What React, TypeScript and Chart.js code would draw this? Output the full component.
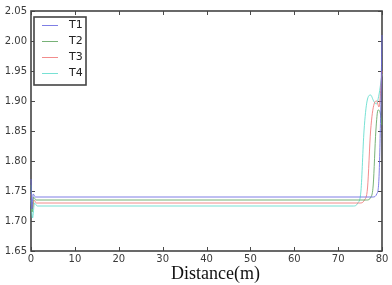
import React, { useEffect, useRef } from "react";
import { Chart, registerables } from "chart.js";
Chart.register(...registerables);

const seriesNames = ["T1", "T2", "T3", "T4"];
const seriesColors = [
  "rgba(105,105,225,0.85)",
  "rgba(95,165,95,0.85)",
  "rgba(240,120,120,0.85)",
  "rgba(95,220,205,0.85)",
];

const t1X = [0, 0.2, 0.5, 1, 78, 78.8, 79.3, 79.7, 80];
const t1Y = [1.77, 1.72, 1.745, 1.74, 1.74, 1.745, 1.77, 1.88, 2.01];
const t2X = [0, 0.25, 0.6, 1.1, 76.5, 77.5, 78, 78.6, 79.1, 79.6, 80];
const t2Y = [1.76, 1.715, 1.74, 1.735, 1.735, 1.74, 1.76, 1.85, 1.885, 1.88, 1.86];
const t3X = [0, 0.3, 0.7, 1.2, 75, 76, 76.7, 77.4, 78.2, 78.8, 79.3, 80];
const t3Y = [1.745, 1.72, 1.735, 1.73, 1.73, 1.735, 1.755, 1.85, 1.895, 1.9, 1.89, 1.95];
const t4X = [0, 0.35, 0.8, 1.4, 73.5, 74.5, 75.2, 75.9, 76.6, 77.4, 78.1, 78.7, 79.3, 80];
const t4Y = [1.735, 1.705, 1.73, 1.725, 1.725, 1.73, 1.75, 1.85, 1.9, 1.91, 1.9, 1.895, 1.91, 1.945];

const xTicks = [0, 10, 20, 30, 40, 50, 60, 70, 80];
const yTicks = [1.65, 1.7, 1.75, 1.8, 1.85, 1.9, 1.95, 2.0, 2.05];
const xTitle = "Distance(m)";

const seriesX = [t1X, t2X, t3X, t4X];
const seriesY = [t1Y, t2Y, t3Y, t4Y];

const framePlugin = {
  id: "frameTicks",
  beforeDatasetsDraw(chart: any) {
    const { ctx, chartArea } = chart;
    const { left, right, top, bottom } = chartArea;
    const xs = chart.scales.x;
    const ys = chart.scales.y;
    ctx.save();
    ctx.strokeStyle = "#4a4a4a";
    ctx.lineWidth = 1;
    ctx.beginPath();
    xTicks.forEach((v) => {
      const px = Math.round(xs.getPixelForValue(v)) + 0.5;
      ctx.moveTo(px, bottom);
      ctx.lineTo(px, bottom - 4);
      ctx.moveTo(px, top);
      ctx.lineTo(px, top + 4);
    });
    yTicks.forEach((v) => {
      const py = Math.round(ys.getPixelForValue(v)) + 0.5;
      ctx.moveTo(left, py);
      ctx.lineTo(left + 4, py);
      ctx.moveTo(right, py);
      ctx.lineTo(right - 4, py);
    });
    ctx.stroke();
    ctx.lineWidth = 1.6;
    ctx.strokeStyle = "#444";
    ctx.strokeRect(left, top, right - left, bottom - top);
    ctx.restore();
  },
  afterDraw(chart: any) {
    const { ctx, chartArea } = chart;
    const { left, right, top, bottom } = chartArea;
    ctx.save();
    ctx.font = '18px "Liberation Serif"';
    ctx.fillStyle = "#111";
    ctx.textAlign = "center";
    ctx.textBaseline = "middle";
    ctx.fillText(xTitle, (left + right) / 2 + 9, bottom + 23);

    const bx = left + 3;
    const by = top + 6;
    ctx.fillStyle = "#fff";
    ctx.fillRect(bx, by, 52, 68);
    ctx.lineWidth = 1.6;
    ctx.strokeStyle = "#444";
    ctx.strokeRect(bx, by, 52, 68);
    ctx.font = '11px "DejaVu Sans"';
    ctx.textAlign = "left";
    ctx.textBaseline = "middle";
    seriesNames.forEach((name, i) => {
      const cy = top + 14 + i * 16;
      ctx.strokeStyle = seriesColors[i];
      ctx.lineWidth = 1;
      ctx.beginPath();
      ctx.moveTo(left + 11, cy + 0.5);
      ctx.lineTo(left + 27, cy + 0.5);
      ctx.stroke();
      ctx.fillStyle = "#222";
      ctx.fillText(name, left + 38, cy);
    });
    ctx.restore();
  },
};

export default function App() {
  const ref = useRef<HTMLCanvasElement | null>(null);
  useEffect(() => {
    document.body.style.margin = "0";
    const canvas = ref.current;
    if (!canvas) return;
    const chart = new Chart(canvas, {
      type: "line",
      data: {
        datasets: seriesNames.map((name, i) => ({
          label: name,
          data: seriesX[i].map((x, j) => ({ x, y: seriesY[i][j] })),
          borderColor: seriesColors[i],
          backgroundColor: seriesColors[i],
          borderWidth: 1,
          pointRadius: 0,
          clip: 3,
          cubicInterpolationMode: "monotone" as const,
          fill: false,
        })),
      },
      options: {
        animation: false,
        responsive: false,
        layout: { padding: { top: 11, right: 10, left: 0, bottom: 0 } },
        plugins: { legend: { display: false }, tooltip: { enabled: false } },
        scales: {
          x: {
            type: "linear",
            min: 0,
            max: 80,
            afterBuildTicks: (s: any) => {
              s.ticks = xTicks.map((v) => ({ value: v }));
            },
            afterFit: (s: any) => {
              s.height = 34;
            },
            grid: { display: false, drawTicks: false, tickLength: 0 },
            border: { display: false },
            ticks: {
              font: { family: "DejaVu Sans", size: 10 },
              color: "#3a3a3a",
              padding: 2,
              maxRotation: 0,
            },
          },
          y: {
            type: "linear",
            min: 1.65,
            max: 2.05,
            afterBuildTicks: (s: any) => {
              s.ticks = yTicks.map((v) => ({ value: v }));
            },
            afterFit: (s: any) => {
              s.width = 31;
            },
            grid: { display: false, drawTicks: false, tickLength: 0 },
            border: { display: false },
            ticks: {
              font: { family: "DejaVu Sans", size: 10 },
              color: "#3a3a3a",
              padding: 4,
              callback: (v: any) => Number(v).toFixed(2),
            },
          },
        },
      },
      plugins: [framePlugin],
    });
    return () => chart.destroy();
  }, []);
  return <canvas ref={ref} width={392} height={285} style={{ display: "block" }} />;
}
